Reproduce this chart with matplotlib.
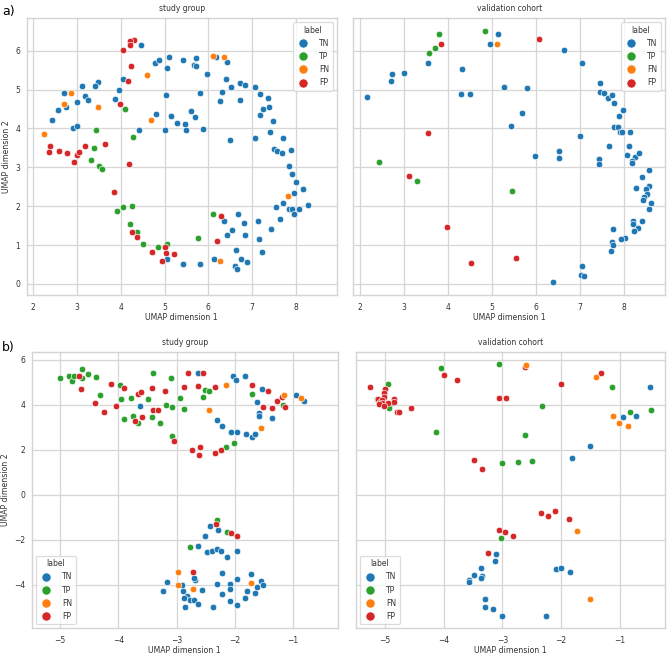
import matplotlib
matplotlib.use("Agg")
import matplotlib.pyplot as plt
from matplotlib.lines import Line2D
import seaborn as sns

# ---------------- data (x, y) pairs ----------------
labels = ["TN", "TP", "FN", "FP"]
colors = {"TN": "#1f77b4", "TP": "#2ca02c", "FN": "#ff7f0e", "FP": "#d62728"}
panel_titles = ["study group", "validation cohort"]
x_label = "UMAP dimension 1"
y_label = "UMAP dimension 2"

# a) study group
a_study_TN = [(4.47,6.14),(4.78,5.68),(4.88,5.76),(5.11,5.84),(5.43,5.77),(5.71,5.82),(5.68,5.64),(5.71,5.60),
    (5.96,5.41),(6.17,5.85),(6.43,5.71),(6.40,5.28),(6.51,5.06),(6.32,4.95),(6.27,4.70),(6.72,5.17),(6.85,5.13),
    (6.73,4.74),(7.06,5.06),(7.18,4.88),(7.36,4.79),(7.24,4.51),(7.38,4.54),(7.18,4.34),(7.49,4.19),(7.40,3.91),
    (7.71,3.75),(7.07,3.75),(6.50,3.71),(7.51,3.48),(7.58,3.42),(7.69,3.37),(7.88,3.45),(7.84,3.03),(7.91,2.83),
    (8.01,2.62),(7.95,2.35),(8.17,2.44),(8.28,2.04),(7.70,2.09),(7.55,1.97),(7.84,1.92),(7.92,1.93),(8.08,1.92),
    (7.97,1.79),(7.65,1.68),(7.44,1.42),(7.13,1.63),(7.15,1.15),(7.22,0.82),(6.82,1.56),(6.67,1.79),(6.83,1.25),
    (6.37,1.62),(6.55,1.39),(6.42,1.26),(6.63,0.87),(6.75,0.64),(6.88,0.57),(6.60,0.45),(6.66,0.39),(6.13,0.64),
    (5.82,0.52),(5.43,0.52),(5.06,0.65),(5.00,3.97),(5.03,4.85),(5.05,5.55),(5.15,4.32),(5.28,4.14),(5.46,4.11),
    (5.50,3.97),(5.60,4.45),(5.69,4.30),(5.82,4.90),(5.89,3.98),(4.81,4.37),(4.42,3.95),(4.04,5.28),(3.95,4.98),
    (3.87,4.76),(3.47,5.20),(3.42,5.10),(3.12,5.09),(3.18,4.84),(3.25,4.74),(3.00,4.67),(2.75,4.56),(2.71,4.90),
    (2.57,4.48),(2.42,4.23),(2.90,4.02),(3.00,4.06)]
a_study_TP = [(4.09,4.51),(3.44,3.97),(4.27,3.77),(3.38,3.51),(3.32,3.20),(3.50,3.04),(3.58,2.96),(3.92,1.87),
    (4.05,1.98),(4.25,2.00),(4.20,1.53),(4.38,1.34),(4.50,1.02),(4.86,0.96),(5.06,1.02),(5.77,1.17),(6.11,1.81)]
a_study_FN = [(2.24,3.85),(2.71,4.62),(2.85,4.90),(3.47,4.56),(4.59,5.38),(4.69,4.21),(6.11,5.86),(6.35,5.85),
    (7.83,2.27),(6.27,0.60)]
a_study_FP = [(4.30,6.28),(4.21,6.24),(4.21,6.15),(4.05,6.02),(4.23,5.60),(4.17,5.22),(3.98,4.62),(2.38,3.55),
    (2.36,3.39),(2.59,3.41),(2.78,3.36),(2.92,3.14),(3.00,3.32),(3.04,3.39),(3.17,3.55),(3.64,3.61),(4.18,3.08),
    (3.85,2.37),(4.26,1.33),(4.37,1.22),(4.72,0.82),(4.93,0.59),(5.02,0.95),(5.03,0.79),(5.22,0.76),(6.28,1.74),
    (6.20,1.11)]

# a) validation cohort
a_valid_TN = [(5.14,6.44),(4.95,6.17),(6.65,6.01),(7.05,5.68),(3.54,5.69),(4.32,5.52),(2.73,5.40),(3.00,5.42),
    (2.71,5.21),(2.17,4.82),(4.29,4.89),(4.51,4.88),(5.27,5.07),(5.81,5.05),(5.68,4.41),(5.44,4.07),(5.99,3.30),
    (6.52,3.41),(6.53,3.23),(7.00,3.81),(7.66,3.54),(7.45,3.21),(7.43,3.08),(7.47,5.18),(7.47,4.93),(7.56,4.91),
    (7.65,4.78),(7.73,4.87),(7.78,4.65),(7.98,4.48),(7.90,4.33),(7.79,4.05),(7.88,4.03),(7.92,3.91),(7.96,3.90),
    (8.14,3.91),(8.13,3.55),(8.07,3.33),(8.26,3.26),(8.35,3.37),(8.19,3.17),(8.20,3.12),(8.58,2.94),(8.43,2.76),
    (8.28,2.46),(8.58,2.51),(8.52,2.44),(8.54,2.31),(8.47,2.23),(8.44,2.15),(8.62,2.09),(8.58,1.93),(8.41,1.62),
    (8.22,1.62),(8.22,1.54),(8.32,1.43),(8.24,1.36),(7.77,1.41),(8.04,1.19),(7.95,1.16),(7.73,1.09),(7.76,1.00),
    (7.71,0.85),(7.06,0.45),(7.02,0.22),(7.11,0.20),(6.40,0.04)]
a_valid_TP = [(3.79,6.43),(4.84,6.51),(3.71,6.07),(3.56,5.93),(2.44,3.15),(3.29,2.64),(5.47,2.39)]
a_valid_FN = [(5.12,6.17)]
a_valid_FP = [(3.84,6.16),(6.07,6.29),(3.54,3.89),(3.11,2.77),(3.97,1.46),(4.53,0.53),(5.54,0.66)]

# b) study group
b_study_TN = [(-3.63,3.95),(-2.64,5.40),(-2.30,3.31),(-2.22,3.04),(-2.07,2.80),(-1.96,2.76),(-1.81,2.68),
    (-1.71,2.54),(-1.65,2.68),(-2.04,5.26),(-1.98,5.11),(-1.82,5.26),(-1.54,4.69),(-1.63,4.10),(-1.58,3.62),
    (-1.58,3.47),(-1.36,3.40),(-0.96,4.44),(-0.81,4.14),
    (-2.43,-1.38),(-2.29,-1.59),(-2.51,-1.84),(-2.64,-2.30),(-2.48,-2.57),(-2.40,-2.51),(-2.31,-2.42),
    (-2.24,-2.51),(-2.13,-2.79),(-1.96,-2.51),(-2.23,-3.48),(-2.68,-3.79),(-2.71,-3.72),(-3.17,-3.90),
    (-3.24,-4.28),(-2.91,-4.00),(-2.90,-4.27),(-2.84,-4.54),(-2.82,-4.51),(-2.87,-4.58),(-2.85,-4.98),
    (-2.78,-4.70),(-2.70,-4.68),(-2.64,-4.88),(-2.56,-4.24),(-2.38,-4.98),(-2.30,-3.99),(-2.23,-4.42),
    (-2.09,-3.95),(-2.09,-4.20),(-2.08,-4.71),(-1.97,-3.76),(-1.97,-4.89),(-1.83,-4.61),(-1.80,-4.30),
    (-1.72,-3.52),(-1.66,-4.36),(-1.62,-4.12),(-1.55,-3.82),(-1.51,-4.01)]
b_study_TP = [(-5.00,5.18),(-4.85,5.26),(-4.80,5.03),(-4.77,5.29),(-4.62,5.58),(-4.62,5.20),(-4.53,5.38),
    (-4.39,5.24),(-4.32,4.44),(-3.98,4.88),(-3.96,4.26),(-3.91,3.38),(-3.78,4.30),(-3.75,3.51),(-3.67,3.16),
    (-3.49,4.24),(-3.42,3.44),(-3.40,5.42),(-3.28,3.19),(-3.19,3.98),(-3.10,5.20),(-3.08,3.90),(-3.08,2.61),
    (-2.94,4.29),(-2.87,3.80),(-2.54,4.32),(-2.52,4.64),(-2.44,4.61),(-2.15,2.12),(-2.02,2.29),(-1.71,4.47),
    (-1.18,3.99),(-2.31,-1.13),(-2.13,-1.64),(-2.78,-2.32)]
b_study_FN = [(-2.44,3.77),(-2.15,4.88),(-1.55,2.96),(-1.16,4.41),(-0.86,4.29),(-2.98,-3.42),(-2.97,-4.00),
    (-2.72,-4.18),(-1.72,-3.92)]
b_study_FP = [(-4.67,5.29),(-4.65,4.71),(-4.40,4.05),(-4.24,3.65),(-4.12,4.91),(-4.04,3.92),(-3.91,4.72),
    (-3.71,3.25),(-3.67,4.47),(-3.61,4.57),(-3.59,3.43),(-3.42,4.74),(-3.40,3.75),(-3.32,3.75),(-3.20,4.60),
    (-3.04,2.40),(-2.88,4.78),(-2.80,5.42),(-2.64,4.83),(-2.55,5.39),(-2.34,4.76),(-2.73,1.97),(-2.60,2.10),
    (-2.61,1.76),(-2.35,1.86),(-2.24,1.97),(-1.71,4.87),(-1.44,4.62),(-1.52,3.90),(-1.37,3.86),(-1.28,4.15),
    (-1.19,4.32),(-1.14,3.89),(-2.33,-1.29),(-2.07,-1.69),(-1.96,-1.86),(-2.72,-3.43)]

# b) validation cohort
b_valid_TN = [(-0.49,4.77),(-0.94,3.46),(-0.72,3.47),(-1.50,2.15),(-1.82,1.62),(-3.11,-2.62),(-3.12,-2.97),
    (-3.37,-3.26),(-3.48,-3.55),(-3.34,-3.61),(-3.37,-3.70),(-3.56,-3.78),(-3.56,-3.90),(-2.08,-3.29),
    (-2.00,-3.27),(-1.84,-3.42),(-3.30,-4.62),(-3.30,-5.00),(-3.16,-5.10),(-3.01,-5.38),(-2.26,-5.38)]
b_valid_TP = [(-4.05,5.61),(-3.06,5.79),(-4.94,4.93),(-5.14,4.23),(-4.88,4.07),(-4.93,3.83),(-2.32,3.95),
    (-4.12,2.78),(-2.61,2.63),(-3.01,1.42),(-2.74,1.45),(-2.49,1.50),(-1.13,4.77),(-0.83,3.68),(-0.47,3.74),
    (-3.03,-1.91)]
b_valid_FN = [(-2.60,5.75),(-1.41,5.21),(-1.11,3.47),(-1.02,3.16),(-0.86,3.03),(-1.72,-1.62),(-1.50,-4.62)]
b_valid_FP = [(-5.25,4.77),(-4.99,4.68),(-5.02,4.53),(-5.01,4.35),(-5.12,4.23),(-5.08,4.13),(-5.04,4.20),
    (-4.85,4.23),(-4.84,4.10),(-4.94,4.05),(-5.04,4.05),(-5.10,4.01),(-5.01,3.93),(-4.79,3.65),(-4.76,3.66),
    (-4.56,3.83),(-4.00,5.30),(-3.77,5.11),(-3.06,4.29),(-2.93,4.28),(-2.61,5.68),(-2.00,4.90),(-1.32,5.42),
    (-3.48,1.54),(-3.34,1.14),(-2.34,-0.81),(-2.23,-0.95),(-2.10,-0.75),(-1.87,-1.10),(-3.05,-1.59),
    (-2.95,-1.65),(-2.82,-1.86),(-3.25,-2.60)]

# ---------------- style ----------------
sns.set_theme(style="whitegrid")
plt.rcParams["font.family"] = ["DejaVu Sans"]
plt.rcParams.update({
    "axes.edgecolor": "#d4d4d4", "grid.color": "#d6d6d6", "axes.linewidth": 1.0, "grid.linewidth": 0.9,
    "xtick.labelsize": 5.5, "ytick.labelsize": 5.5, "axes.labelsize": 5.6, "axes.titlesize": 5.5,
    "legend.fontsize": 5.5, "legend.title_fontsize": 5.5, "text.color": ".2", "axes.labelcolor": ".2",
    "xtick.color": ".2", "ytick.color": ".2", "xtick.major.pad": 5.5, "ytick.major.pad": 4.5,
})

W, H = 668, 657
fig = plt.figure(figsize=(W / 100, H / 100), dpi=100)

def rect(l, t, r, b):
    return [l / W, 1 - b / H, (r - l) / W, (b - t) / H]

ax_al = fig.add_axes(rect(26.7, 18.3, 337, 295))
ax_ar = fig.add_axes(rect(353.3, 18.3, 665, 295), sharex=ax_al, sharey=ax_al)
ax_bl = fig.add_axes(rect(31.7, 351.7, 338, 628.3))
ax_br = fig.add_axes(rect(356, 351.7, 665, 628.3), sharex=ax_bl, sharey=ax_bl)

panels = [
    (ax_al, {"TN": a_study_TN, "TP": a_study_TP, "FN": a_study_FN, "FP": a_study_FP}, 0, "upper right"),
    (ax_ar, {"TN": a_valid_TN, "TP": a_valid_TP, "FN": a_valid_FN, "FP": a_valid_FP}, 1, "upper right"),
    (ax_bl, {"TN": b_study_TN, "TP": b_study_TP, "FN": b_study_FN, "FP": b_study_FP}, 0, "lower left"),
    (ax_br, {"TN": b_valid_TN, "TP": b_valid_TP, "FN": b_valid_FN, "FP": b_valid_FP}, 1, "lower left"),
]

draw_order = ["TN", "TP", "FP", "FN"]
for ax, data, ti, loc in panels:
    for lab in draw_order:
        pts = data[lab]
        xs = [p[0] for p in pts]
        ys = [p[1] for p in pts]
        ax.scatter(xs, ys, s=22, color=colors[lab], edgecolor="white", linewidth=0.45, zorder=3)
    ax.set_title(panel_titles[ti], pad=5)
    ax.set_xlabel(x_label, labelpad=1.0)
    ax.tick_params(length=0)
    handles = [Line2D([], [], marker="o", ls="", color=colors[l], markeredgecolor="white",
                      markeredgewidth=0.5, markersize=6.6) for l in labels]
    leg = ax.legend(handles, labels, title="label", loc=loc, frameon=True, borderaxespad=0.5,
                    handletextpad=1.2, labelspacing=0.55, borderpad=0.45, handlelength=1.8)
    leg.get_frame().set_edgecolor("#d4d4d4")
    leg.get_frame().set_linewidth(0.9)

for ax in (ax_al, ax_bl):
    ax.set_ylabel(y_label, labelpad=3)
for ax in (ax_ar, ax_br):
    ax.tick_params(labelleft=False)

ax_al.set_xticks([2, 3, 4, 5, 6, 7, 8])
ax_al.set_yticks([0, 1, 2, 3, 4, 5, 6])
ax_bl.set_xticks([-5, -4, -3, -2, -1])
ax_bl.set_yticks([-4, -2, 0, 2, 4, 6])

fig.text(2 / W, 1 - 11 / H, "a)", fontsize=9, va="center", ha="left", color="black")
fig.text(2 / W, 1 - 348 / H, "b)", fontsize=9, va="center", ha="left", color="black")

fig.savefig("out.png", dpi=100)
